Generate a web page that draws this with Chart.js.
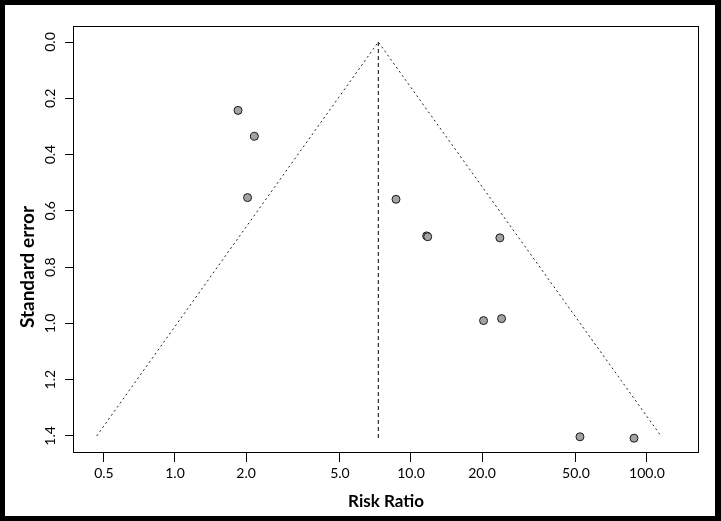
<!DOCTYPE html>
<html><head><meta charset="utf-8">
<script src="https://cdn.jsdelivr.net/npm/chart.js@4"></script>
<style>
html,body{margin:0;padding:0;background:#fff;}
#wrap{position:relative;width:721px;height:521px;}
#frame{position:absolute;left:0;top:0;width:721px;height:521px;box-sizing:border-box;border-style:solid;border-color:#000;border-width:5px 6px 5px 5px;pointer-events:none;}
canvas{display:block;}
</style></head><body>
<div id="wrap"><canvas id="c" width="721" height="521"></canvas><div id="frame"></div></div>
<script>
// Study estimates
const riskRatio     = [1.85, 2.17, 2.03, 8.64, 11.65, 11.77, 23.8, 20.3, 24.2, 52.0, 88.1];
const standardError = [0.243, 0.335, 0.553, 0.559, 0.689, 0.692, 0.696, 0.990, 0.983, 1.403, 1.408];
// Pooled estimate (vertical reference line) and funnel edges
const pooledRR   = [7.27, 7.27];
const pooledSE   = [0, 1.41];
const funnelRR   = [0.466, 7.27, 114.6];
const funnelSE   = [1.40, 0, 1.40];
// Axis ticks
const xTickValues = [0.5, 1, 2, 5, 10, 20, 50, 100];
const yTickValues = [0, 0.2, 0.4, 0.6, 0.8, 1.0, 1.2, 1.4];
const yTitle = 'Standard error';
const xTitle = 'Risk Ratio';

const FONT = 'Lato, "Open Sans", sans-serif';

const boxPlugin = {
  id: 'box',
  afterDraw(chart) {
    const {ctx, chartArea: a} = chart;
    ctx.save();
    ctx.strokeStyle = '#000';
    ctx.lineWidth = 1;
    const l = Math.round(a.left) + 0.5, t = Math.round(a.top) + 0.5;
    const r = Math.round(a.right) - 0.5, b = Math.round(a.bottom) - 0.5;
    ctx.strokeRect(l, t, r - l, b - t);
    // y-axis title, placed as in the reference (slightly below the axis centre)
    ctx.translate(28, 267);
    ctx.rotate(-Math.PI / 2);
    ctx.fillStyle = '#000';
    ctx.font = 'bold 19px ' + FONT;
    ctx.textAlign = 'center';
    ctx.textBaseline = 'middle';
    ctx.fillText(yTitle, 0, 0);
    ctx.restore();
  }
};

new Chart(document.getElementById('c'), {
  type: 'scatter',
  data: {
    datasets: [
      {
        data: funnelRR.map((v, i) => ({x: v, y: funnelSE[i]})),
        showLine: true, borderColor: '#222', borderWidth: 1, borderDash: [2, 3],
        pointRadius: 0, fill: false
      },
      {
        data: pooledRR.map((v, i) => ({x: v, y: pooledSE[i]})),
        showLine: true, borderColor: '#000', borderWidth: 1, borderDash: [4, 3],
        pointRadius: 0, fill: false
      },
      {
        data: riskRatio.map((v, i) => ({x: v, y: standardError[i]})),
        pointRadius: 4, pointBackgroundColor: '#a3a3a3', pointBorderColor: '#1a1a1a',
        pointBorderWidth: 1, showLine: false
      }
    ]
  },
  options: {
    responsive: false,
    animation: false,
    devicePixelRatio: 1,
    layout: {padding: {top: 26, right: 22, left: 0, bottom: 0}},
    plugins: {legend: {display: false}, tooltip: {enabled: false}},
    scales: {
      x: {
        type: 'logarithmic', position: 'bottom',
        min: 0.3697, max: 166.1,
        afterBuildTicks: s => { s.ticks = xTickValues.map(v => ({value: v})); },
        afterFit: s => { s.height = 68; },
        grid: {drawOnChartArea: false, drawTicks: true, tickLength: 9, color: '#000', tickColor: '#000'},
        border: {display: false},
        ticks: {color: '#000', padding: 3, maxRotation: 0, autoSkip: false,
                font: {family: FONT, size: 14}, callback: v => Number(v).toFixed(1)},
        title: {display: true, text: xTitle, color: '#000',
                font: {family: FONT, size: 17, weight: 'bold'}, padding: {top: 0, bottom: 9}}
      },
      y: {
        type: 'linear', reverse: true,
        min: -0.0569, max: 1.4606,
        afterBuildTicks: s => { s.ticks = yTickValues.map(v => ({value: v})); },
        afterFit: s => { s.width = 73; },
        grid: {drawOnChartArea: false, drawTicks: true, tickLength: 8, color: '#000', tickColor: '#000'},
        border: {display: false},
        ticks: {color: '#000', minRotation: 90, maxRotation: 90, crossAlign: 'center', padding: 5,
                autoSkip: false, font: {family: FONT, size: 14}, callback: v => Number(v).toFixed(1)},
        title: {display: false}
      }
    }
  },
  plugins: [boxPlugin]
});
</script>
</body></html>
